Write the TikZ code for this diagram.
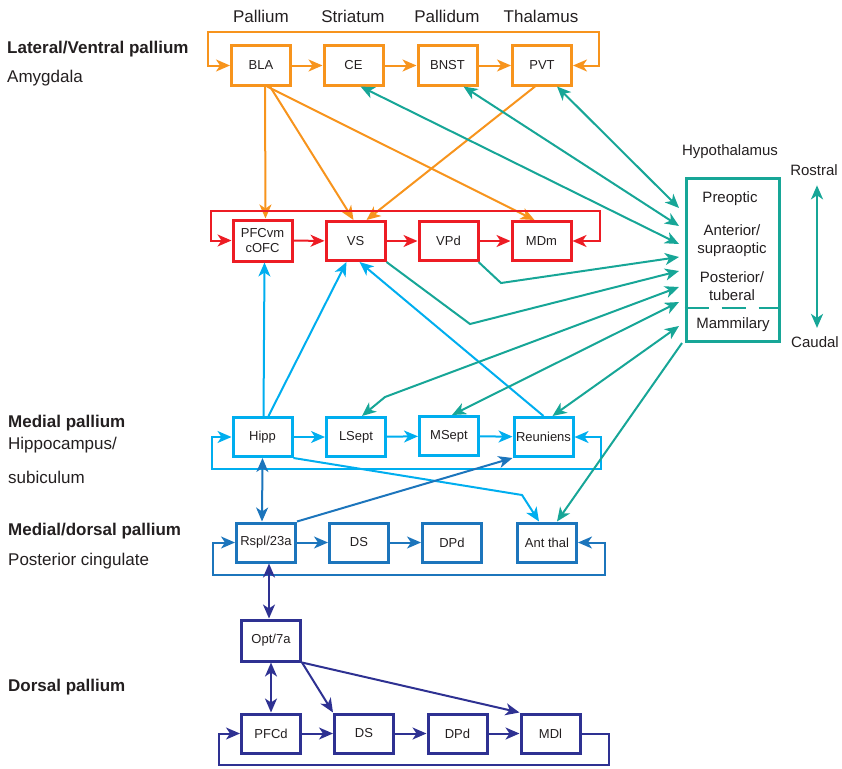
\documentclass[tikz,border=0pt]{standalone}
\usepackage{fontspec}
\setmainfont{Liberation Sans}
\usepackage{xcolor}
\usetikzlibrary{arrows.meta, positioning}
\definecolor{amyg}{HTML}{F7941D}
\definecolor{vstr}{HTML}{ED1C24}
\definecolor{hipc}{HTML}{00AEEF}
\definecolor{cing}{HTML}{1C75BC}
\definecolor{dors}{HTML}{2E3192}
\definecolor{hypo}{HTML}{17A697}
\definecolor{ink}{HTML}{231F20}

\begin{document}
\begin{tikzpicture}[
        x=1pt, y=-1pt,
        box/.style={rectangle, draw, line width=3pt, minimum width=59pt, minimum height=39pt, inner sep=2pt, align=center, text=ink, font=\fontsize{13}{15}\selectfont},
        arrow/.style={-{Stealth[length=14pt,width=12pt,inset=4pt]}, line width=2pt},
        dbl/.style={{Stealth[length=14pt,width=12pt,inset=4pt]}-{Stealth[length=14pt,width=12pt,inset=4pt]}, line width=2pt},
        head/.style={anchor=base, text=ink, inner sep=0pt, font=\fontsize{17}{20}\selectfont},
        region/.style={anchor=base west, text=ink, inner sep=0pt, font=\fontsize{17}{20}\selectfont\bfseries},
        area/.style={anchor=base west, text=ink, inner sep=0pt, align=left, font=\fontsize{17}{34}\selectfont},
        hyp/.style={anchor=base, text=ink, inner sep=0pt, align=center, font=\fontsize{15}{18}\selectfont}
    ]
        \useasboundingbox (0,0) rectangle (842,768);

        \node[region] (latvent) at (7,53) {Lateral/Ventral pallium};
        \node[area] (amygdala) at (7,82) {Amygdala};
        \node[region] (medpal) at (8,427) {Medial pallium};
        \node[area, anchor=north west] (hippsub) at (8,436.7) {Hippocampus/\\subiculum};
        \node[region] (meddors) at (8,535) {Medial/dorsal pallium};
        \node[area] (postcing) at (8,565) {Posterior cingulate};
        \node[region] (dorspal) at (8,691) {Dorsal pallium};

        \node[head] (pall) at (261,23) {Pallium};
        \node[head] (stri) at (353,23) {Striatum};
        \node[head] (palli) at (447,23) {Pallidum};
        \node[head] (thal) at (541,23) {Thalamus};

        \node[box, draw=amyg] (BLA) at (261,65.5) {BLA};
        \node[box, draw=amyg] (CE) at (353.5,65.5) {CE};
        \node[box, draw=amyg] (BNST) at (447.5,65.5) {BNST};
        \node[box, draw=amyg] (PVT) at (542,65.5) {PVT};

        \node[box, draw=vstr, minimum height=41pt] (PFCvm) at (262.5,240.5) {PFCvm\\cOFC};
        \node[box, draw=vstr] (VS) at (355.5,241) {VS};
        \node[box, draw=vstr] (VPd) at (448.5,241) {VPd};
        \node[box, draw=vstr] (MDm) at (541.5,241) {MDm};

        \node[box, draw=hipc] (Hipp) at (262.5,437) {Hipp};
        \node[box, draw=hipc] (LSept) at (356,437) {LSept};
        \node[box, draw=hipc] (MSept) at (449,436) {MSept};
        \node[box, draw=hipc] (Reun) at (543.5,437) {Reuniens};

        \node[box, draw=cing] (Rspl) at (266,542.5) {Rspl/23a};
        \node[box, draw=cing] (DSc) at (359,542.5) {DS};
        \node[box, draw=cing] (DPdc) at (452,542.5) {DPd};
        \node[box, draw=cing] (AntThal) at (547,542.5) {Ant thal};

        \node[box, draw=dors, minimum height=41pt] (Opt) at (271,640.5) {Opt/7a};
        \node[box, draw=dors] (PFCd) at (271,733.5) {PFCd};
        \node[box, draw=dors] (DSd) at (364,733.5) {DS};
        \node[box, draw=dors] (DPdd) at (457.5,733.5) {DPd};
        \node[box, draw=dors] (MDl) at (550.5,733.5) {MDl};

        % hypothalamus
        \node[draw=hypo, line width=3pt, minimum width=93pt, minimum height=163pt, inner sep=0pt] (Hyp) at (732.5,259.5) {};
        \node[hyp] (hypt) at (730,155) {Hypothalamus};
        \node[hyp] (preopt) at (730,202) {Preoptic};
        \node[hyp, anchor=north] (antsup) at (732,224) {Anterior/\\supraoptic};
        \node[hyp, anchor=north] (posttub) at (732,271) {Posterior/\\tuberal};
        \node[hyp] (mamm) at (733,328) {Mammilary};
        \draw[hypo, line width=2.5pt, dash pattern=on 24pt off 13pt] ([yshift=-48.5pt]Hyp.west) -- ([yshift=-48.5pt]Hyp.east);
        \node[hyp] (rost) at (814,175) {Rostral};
        \node[hyp] (caud) at (815,347) {Caudal};
        \draw[dbl, hypo, line width=2.4pt] ([xshift=3pt,yshift=-10pt]rost.south) -- ([xshift=2pt,yshift=8pt]caud.north);

        \coordinate (h1) at (679,208);
        \coordinate (h2) at (679,226);
        \coordinate (h3) at (679,244);
        \coordinate (h4) at (679,257);
        \coordinate (h5) at (679,271);
        \coordinate (h6) at (679,287);
        \coordinate (h7) at (679,302);
        \coordinate (h8) at (679,326);
        \coordinate (h9) at (682,343);
        \coordinate (bVPd) at (501,283);
        \coordinate (bVS) at (470,324);
        \coordinate (bLS) at (385,397);
        \coordinate (bHA) at (522,495);

        % amygdala
        \draw[arrow, amyg] (BLA) -- (CE);
        \draw[arrow, amyg] (CE) -- (BNST);
        \draw[arrow, amyg] (BNST) -- (PVT);
        \draw[dbl, amyg] (BLA.west) -- ++(-22,0) -- ++(0,-33) -| ([xshift=26pt]PVT.east) -- (PVT.east);
        \draw[arrow, amyg] ([xshift=4pt]BLA.south) -- ([xshift=3pt]PFCvm.north);
        \draw[arrow, amyg] ([xshift=9pt]BLA.south) -- ([xshift=-2pt]VS.north);
        \draw[arrow, amyg] ([xshift=6pt]BLA.south) -- ([xshift=-7pt]MDm.north);
        \draw[arrow, amyg] ([xshift=-7pt]PVT.south) -- ([xshift=11pt]VS.north);

        % ventral striatal loop
        \draw[arrow, vstr] (PFCvm) -- (VS);
        \draw[arrow, vstr] (VS) -- (VPd);
        \draw[arrow, vstr] (VPd) -- (MDm);
        \draw[dbl, vstr] (PFCvm.west) -- ++(-21,0) -- ++(0,-30) -| ([xshift=27pt]MDm.east) -- (MDm.east);

        % hippocampal
        \draw[arrow, hipc] (Hipp) -- (LSept);
        \draw[arrow, hipc] (LSept) -- (MSept);
        \draw[arrow, hipc] (MSept) -- (Reun);
        \draw[dbl, hipc] (Hipp.west) -- ++(-20,0) -- ++(0,32) -| ([xshift=26pt]Reun.east) -- (Reun.east);
        \draw[arrow, hipc] ([xshift=1pt]Hipp.north) -- ([xshift=2pt]PFCvm.south);
        \draw[arrow, hipc] ([xshift=6pt]Hipp.north) -- ([xshift=-9pt]VS.south);
        \draw[arrow, hipc] (Reun.north) -- ([xshift=4pt]VS.south);
        \draw[arrow, hipc] (Hipp.south east) -- (bHA) -- ([xshift=-8pt]AntThal.north);

        % hypothalamus
        \draw[dbl, hypo] ([xshift=7pt]CE.south) -- (h3);
        \draw[dbl, hypo] ([xshift=16pt]BNST.south) -- (h2);
        \draw[dbl, hypo] ([xshift=15pt]PVT.south) -- (h1);
        \draw[arrow, hypo] ([xshift=-1pt]VPd.south east) -- (bVPd) -- (h4);
        \draw[arrow, hypo] (VS.south east) -- (bVS) -- (h5);
        \draw[dbl, hypo] (h6) -- (bLS) -- ([xshift=6pt]LSept.north);
        \draw[dbl, hypo] (h7) -- ([xshift=3pt]MSept.north);
        \draw[dbl, hypo] (h8) -- ([xshift=9pt]Reun.north);
        \draw[arrow, hypo] (h9) -- ([xshift=10pt]AntThal.north);

        % cingulate
        \draw[arrow, cing] (Rspl) -- (DSc);
        \draw[arrow, cing] (DSc) -- (DPdc);
        \draw[dbl, cing] (Rspl.west) -- ++(-22,0) -- ++(0,32) -| ([xshift=27pt]AntThal.east) -- (AntThal.east);
        \draw[dbl, cing] (Hipp.south) -- ([xshift=-4pt]Rspl.north);
        \draw[arrow, cing] (Rspl.north east) -- (Reun.south west);

        % dorsal
        \draw[dbl, dors] ([xshift=3pt]Rspl.south) -- ([xshift=-2pt]Opt.north);
        \draw[dbl, dors] (Opt.south) -- (PFCd.north);
        \draw[arrow, dors] (Opt.south east) -- (DSd.north west);
        \draw[arrow, dors] (Opt.south east) -- (MDl.north west);
        \draw[arrow, dors] (PFCd) -- (DSd);
        \draw[arrow, dors] (DSd) -- (DPdd);
        \draw[arrow, dors] (DPdd) -- (MDl);
        \draw[arrow, dors] (MDl.east) -- ++(27,0) -- ++(0,31) -| ([xshift=-21pt]PFCd.west) -- (PFCd.west);
    \end{tikzpicture}
\end{document}
